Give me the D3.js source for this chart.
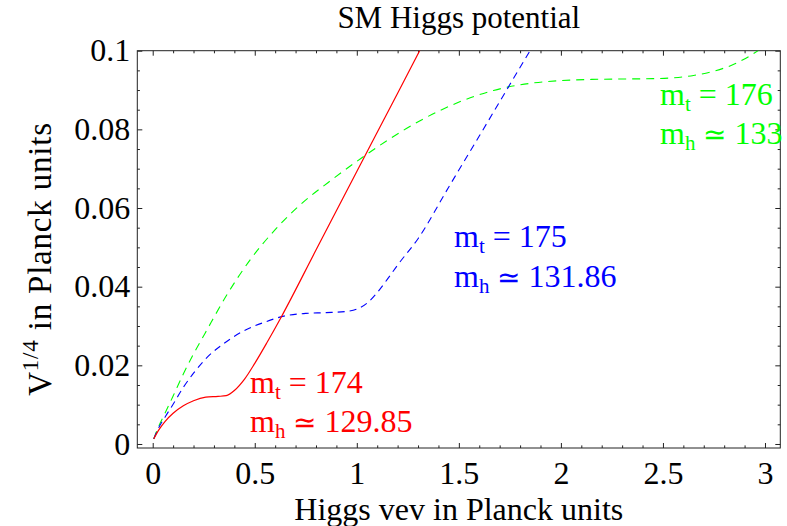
<!DOCTYPE html>
<html><head><meta charset="utf-8">
<script src="https://cdn.jsdelivr.net/npm/d3@7"></script>
<style>body{margin:0;background:#fff}svg{display:block}</style>
</head><body>
<svg id="c" width="787" height="526"></svg>
<script>
// ---- data ----
const xTicksMajor = [0, 0.5, 1, 1.5, 2, 2.5, 3];
const xTickLabels = ["0", "0.5", "1", "1.5", "2", "2.5", "3"];
const yTicksMajor = [0, 0.02, 0.04, 0.06, 0.08, 0.1];
const yTickLabels = ["0", "0.02", "0.04", "0.06", "0.08", "0.1"];

// m_t = 174 (solid red)
const redX = [0.005, 0.03, 0.06, 0.1, 0.15, 0.2, 0.26, 0.32, 0.36, 0.4, 0.45, 0.5, 0.56, 0.63, 0.8, 1.0, 1.2, 1.32];
const redV = [0.0013, 0.0036, 0.0057, 0.0078, 0.0097, 0.0110, 0.0119, 0.0121, 0.0123, 0.0136, 0.0165, 0.0205, 0.0258, 0.0323, 0.0493, 0.0693, 0.0892, 0.1012];

// m_t = 175 (dashed blue)
const blueX = [0.005, 0.03, 0.06, 0.1, 0.15, 0.2, 0.27, 0.35, 0.44, 0.55, 0.65, 0.75, 0.85, 0.95, 1.0, 1.05, 1.1, 1.15, 1.2, 1.3, 1.45, 1.6, 1.75, 1.86];
const blueV = [0.0013, 0.0042, 0.0068, 0.0101, 0.0144, 0.0180, 0.0222, 0.0256, 0.0286, 0.0310, 0.0326, 0.0332, 0.0334, 0.0337, 0.0343, 0.0358, 0.0385, 0.0419, 0.0455, 0.0522, 0.0653, 0.0783, 0.0914, 0.1010];

// m_t = 176 (dashed green)
const greenX = [0.005, 0.03, 0.06, 0.1, 0.15, 0.2, 0.256, 0.37, 0.48, 0.6, 0.72, 0.86, 1.02, 1.15, 1.31, 1.49, 1.67, 1.85, 2.0, 2.15, 2.3, 2.45, 2.55, 2.65, 2.75, 2.85, 2.92, 2.98];
const greenV = [0.0013, 0.0046, 0.0078, 0.0122, 0.0178, 0.0229, 0.0281, 0.0385, 0.0470, 0.0545, 0.0607, 0.0665, 0.0726, 0.0772, 0.0822, 0.0867, 0.0899, 0.0917, 0.0924, 0.0927, 0.0928, 0.0929, 0.0931, 0.0937, 0.0948, 0.0966, 0.0985, 0.1005];

const seriesNames = ["174", "175", "176"];
const mhLabels = ["129.85", "131.86", "133"];

// ---- layout ----
const svg = d3.select("#c");
const L = 137.3, R = 780.3, T = 50.7, B = 448;
const x = d3.scaleLinear().domain([-0.0755, 3.075]).range([L, R]);
const y = d3.scaleLinear().domain([-0.00102, 0.1]).range([B, T]);
const FONT = "'Liberation Serif','Times New Roman',serif";
const FS = 32;

svg.append("defs").append("clipPath").attr("id", "clip")
  .append("rect").attr("x", L).attr("y", T).attr("width", R - L).attr("height", B - T);

const xMinor = d3.range(0, 3.0001, 0.1).filter(v => Math.abs(v * 2 - Math.round(v * 2)) > 1e-6);
const yMinor = d3.range(0, 0.10001, 0.005).filter(v => Math.abs(v / 0.02 - Math.round(v / 0.02)) > 1e-6);

function styleAxis(g) {
  g.select(".domain").remove();
  g.selectAll(".tick line").attr("stroke", "#222").attr("stroke-width", 1);
}
const maj = 5, mnr = 2.6;
svg.append("g").attr("transform", `translate(0,${B})`)
  .call(d3.axisBottom(x).tickValues(xTicksMajor).tickSize(-maj).tickPadding(maj + 8)
    .tickFormat((d, i) => xTickLabels[i]))
  .call(styleAxis)
  .call(g => g.selectAll("text").attr("font-family", FONT).attr("font-size", FS).attr("fill", "#000"));
svg.append("g").attr("transform", `translate(0,${B})`)
  .call(d3.axisBottom(x).tickValues(xMinor).tickSize(-mnr).tickFormat("")).call(styleAxis);
svg.append("g").attr("transform", `translate(0,${T})`)
  .call(d3.axisTop(x).tickValues(xTicksMajor).tickSize(-maj).tickFormat("")).call(styleAxis);
svg.append("g").attr("transform", `translate(0,${T})`)
  .call(d3.axisTop(x).tickValues(xMinor).tickSize(-mnr).tickFormat("")).call(styleAxis);

svg.append("g").attr("transform", `translate(${L},0)`)
  .call(d3.axisLeft(y).tickValues(yTicksMajor).tickSize(-maj).tickPadding(7)
    .tickFormat((d, i) => yTickLabels[i]))
  .call(styleAxis)
  .call(g => g.selectAll("text").attr("font-family", FONT).attr("font-size", FS).attr("fill", "#000"));
svg.append("g").attr("transform", `translate(${L},0)`)
  .call(d3.axisLeft(y).tickValues(yMinor).tickSize(-mnr).tickFormat("")).call(styleAxis);
svg.append("g").attr("transform", `translate(${R},0)`)
  .call(d3.axisRight(y).tickValues(yTicksMajor).tickSize(-maj).tickFormat("")).call(styleAxis);
svg.append("g").attr("transform", `translate(${R},0)`)
  .call(d3.axisRight(y).tickValues(yMinor).tickSize(-mnr).tickFormat("")).call(styleAxis);

// frame
svg.append("rect").attr("x", L).attr("y", T).attr("width", R - L).attr("height", B - T)
  .attr("fill", "none").attr("stroke", "#222").attr("stroke-width", 1);

// curves
const line = d3.line().x(d => x(d[0])).y(d => y(d[1])).curve(d3.curveMonotoneX);
const plot = svg.append("g").attr("clip-path", "url(#clip)");
const zip = (a, b) => a.map((v, i) => [v, b[i]]);
plot.append("path").datum(zip(greenX, greenV)).attr("d", line)
  .attr("fill", "none").attr("stroke", "#00ff00").attr("stroke-width", 1.1).attr("stroke-dasharray", "8,6");
plot.append("path").datum(zip(blueX, blueV)).attr("d", line)
  .attr("fill", "none").attr("stroke", "#0000ff").attr("stroke-width", 1.1).attr("stroke-dasharray", "7,5");
plot.append("path").datum(zip(redX, redV)).attr("d", line)
  .attr("fill", "none").attr("stroke", "#ff0000").attr("stroke-width", 1.2);

// annotations
const ann = [
  { c: "#ff0000", x: 250, y1: 393, y2: 432 },
  { c: "#0000ff", x: 454, y1: 247, y2: 287 },
  { c: "#00ff00", x: 660, y1: 105, y2: 144 }
];
ann.forEach((a, i) => {
  const t1 = svg.append("text").attr("x", a.x).attr("y", a.y1).attr("fill", a.c)
    .attr("font-family", FONT).attr("font-size", FS);
  t1.append("tspan").text("m");
  t1.append("tspan").attr("font-size", 21).attr("dy", 6).text("t");
  t1.append("tspan").attr("dy", -6).text(" = " + seriesNames[i]);
  const t2 = svg.append("text").attr("x", a.x).attr("y", a.y2).attr("fill", a.c)
    .attr("font-family", FONT).attr("font-size", FS);
  t2.append("tspan").text("m");
  t2.append("tspan").attr("font-size", 21).attr("dy", 6).text("h");
  t2.append("tspan").attr("dy", -6).text(" ");
  t2.append("tspan").attr("font-family", "'DejaVu Sans'").attr("font-weight", 200).attr("font-size", 28).text("\u2243");
  t2.append("tspan").text(" " + mhLabels[i]);
});

// titles
svg.append("text").attr("x", (L + R) / 2).attr("y", 28).attr("text-anchor", "middle")
  .attr("font-family", FONT).attr("font-size", 31).text("SM Higgs potential");
svg.append("text").attr("x", (L + R) / 2).attr("y", 520).attr("text-anchor", "middle")
  .attr("font-family", FONT).attr("font-size", FS).text("Higgs vev in Planck units");
const yl = svg.append("text").attr("transform", "translate(51,259) rotate(-90)").attr("text-anchor", "middle")
  .attr("font-family", FONT).attr("font-size", 33).attr("letter-spacing", 0.8);
yl.append("tspan").text("V");
yl.append("tspan").attr("font-size", 23).attr("dy", -13).text("1/4");
yl.append("tspan").attr("dy", 13).text(" in Planck units");
</script>
</body></html>
